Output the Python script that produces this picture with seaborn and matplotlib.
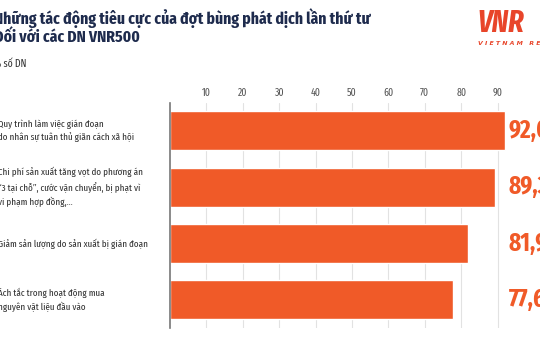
import matplotlib
matplotlib.use("Agg")
import matplotlib.pyplot as plt
import seaborn as sns
import pandas as pd
from matplotlib import font_manager

# dữ liệu
categories = [
    "Quy trình làm việc gián đoạn\ndo nhân sự tuân thủ giãn cách xã hội",
    "Chi phí sản xuất tăng vọt do phương án\n“3 tại chỗ”, cước vận chuyển, bị phạt vì\nvi phạm hợp đồng,...",
    "Giảm sản lượng do sản xuất bị gián đoạn",
    "Ách tắc trong hoạt động mua\nnguyên vật liệu đầu vào",
]
values = [92.0, 89.3, 81.9, 77.6]
value_labels = ["92,0%", "89,3%", "81,9%", "77,6%"]
ticks = [10, 20, 30, 40, 50, 60, 70, 80, 90]
title = "Những tác động tiêu cực của đợt bùng phát dịch lần thứ tư\nĐối với các DN VNR500"
subtitle = "% số DN"

df = pd.DataFrame({"cat": categories, "val": values})

sns.set_style("white")
names = {f.name for f in font_manager.fontManager.ttflist}


def pick(cands):
    for c in cands:
        if c in names:
            return [c, "DejaVu Sans"]
    return ["Liberation Sans", "DejaVu Sans"]


xcond = pick(["Fira Sans Extra Condensed", "Fira Sans Condensed", "Roboto Condensed"])
plt.rcParams["font.family"] = xcond

orange = "#f05a28"
navy = "#1e2b4d"

fig = plt.figure(figsize=(5.4, 3.6), dpi=100)
ax = fig.add_axes([0.315, 0.089, 0.674, 0.626])

sns.barplot(data=df, y="cat", x="val", orient="h", color=orange, width=0.69,
            saturation=1, ax=ax)
ax.set_xlim(0, 100)
ax.set_ylim(3.5, -0.5)
ax.set_xticks(ticks)
ax.xaxis.tick_top()
ax.tick_params(axis="x", length=0, labelsize=7.6, labelcolor="#555555", pad=3)
ax.set_yticks([])
ax.set_xlabel("")
ax.set_ylabel("")
for t in ticks:
    ax.axvline(t, color="#e2e2e2", lw=0.8, zorder=0)
for s in ["top", "right", "bottom"]:
    ax.spines[s].set_visible(False)
ax.spines["left"].set_color("#777777")
ax.spines["left"].set_linewidth(1.2)

# nhãn giá trị
for i, lab in enumerate(value_labels):
    ax.text(93.0, i, lab, ha="left", va="center", color=orange,
            fontsize=18, fontweight="bold", clip_on=False)

# nhãn danh mục bên trái
for i, cat in enumerate(categories):
    y = ax.transData.transform((0, i))[1] / fig.dpi / 3.6
    fig.text(-0.004, y, cat, ha="left", va="center", fontsize=7.0,
             color="#333333", linespacing=1.5)

fig.text(-0.012, 0.978, title, ha="left", va="top", fontsize=12.2,
         fontweight="bold", color=navy, linespacing=1.15)
fig.text(-0.012, 0.822, subtitle, ha="left", va="center", fontsize=7.6,
         color="#333333")

# logo
fig.text(0.885, 0.935, "VNR", ha="left", va="center", fontsize=22,
         fontweight="bold", style="italic", color="#e8452a")
fig.text(0.886, 0.878, "V I E T N A M   R E P O R T", ha="left", va="center",
         fontsize=4.5, fontweight="bold", style="italic", color="#e8452a",
         family="DejaVu Sans")

fig.savefig("out.png", dpi=100)
